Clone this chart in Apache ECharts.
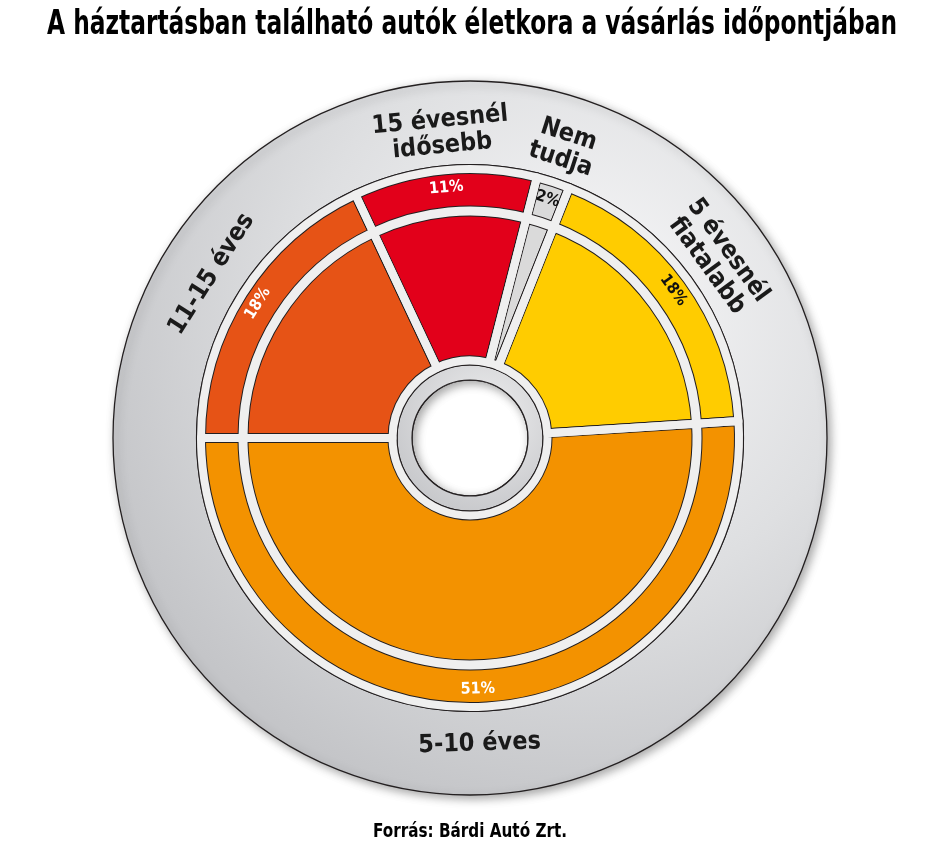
<!DOCTYPE html>
<html><head><meta charset="utf-8">
<script src="https://cdn.jsdelivr.net/npm/echarts@6/dist/echarts.min.js"></script>
<style>html,body{margin:0;padding:0;background:#fff}#c{width:945px;height:852px}</style>
</head><body><div id="c"></div>
<script>
const categories = ['11-15 éves', '15 évesnél\nidősebb', 'Nem\ntudja', '5 évesnél\nfiatalabb', '5-10 éves'];
const shares = [18, 11, 2, 18, 51];
const colors = ['#E65316', '#E2001A', '#DADADA', '#FFCC00', '#F39200'];
const pctColors = ['#ffffff', '#ffffff', '#111111', '#111111', '#ffffff'];
const titleText = 'A háztartásban található autók életkora a vásárlás időpontjában';
const sourceText = 'Forrás: Bárdi Autó Zrt.';

const FONT = "'DejaVu Sans Condensed','Liberation Sans Narrow','Arial Narrow',sans-serif";
const C = [470, 438];
const GAP = '#efefef', LINE = '#231f20';
const chart = echarts.init(document.getElementById('c'), null, {renderer: 'canvas'});

// measure text to condense title / source to the reference widths
const mctx = document.createElement('canvas').getContext('2d');
function widthOf(txt, size) { mctx.font = 'bold ' + size + 'px ' + FONT; return mctx.measureText(txt).width; }
const TITLE_SIZE = 32, SRC_SIZE = 19;
const titleScale = 850 / widthOf(titleText, TITLE_SIZE);
const srcScale = 194 / widthOf(sourceText, SRC_SIZE);

const base = {type: 'pie', center: C, startAngle: 180, clockwise: true, silent: true,
  animation: false, labelLine: {show: false}, emphasis: {disabled: true}, avoidLabelOverlap: false,
  label: {show: false}};
const mk = fn => categories.map((n, i) => fn(n, i));

function solid(r, z) {
  return Object.assign({}, base, {radius: r, z: z,
    data: mk((n, i) => ({name: n, value: shares[i],
      itemStyle: {color: colors[i], borderColor: LINE, borderWidth: 10}}))});
}
function gaps(r, z) {
  return Object.assign({}, base, {radius: r, z: z,
    data: mk((n, i) => ({name: n, value: shares[i],
      itemStyle: {color: 'rgba(0,0,0,0)', borderColor: GAP, borderWidth: 8}}))});
}
function deco(r, z, style) {
  return Object.assign({}, base, {radius: r, z: z, data: [{name: 'deco', value: 1, itemStyle: style}]});
}

const option = {
  backgroundColor: '#ffffff',
  graphic: [
    {type: 'text', x: 472, y: 25, scaleX: titleScale, scaleY: 1.05, z: 100,
     style: {text: titleText, fontFamily: FONT, fontWeight: 'bold', fontSize: TITLE_SIZE,
       fill: '#000', textAlign: 'center', textVerticalAlign: 'middle'}},
    {type: 'text', x: 470, y: 832, scaleX: srcScale, z: 100,
     style: {text: sourceText, fontFamily: FONT, fontWeight: 'bold', fontSize: SRC_SIZE,
       fill: '#000', textAlign: 'center', textVerticalAlign: 'middle'}}
  ],
  series: [
    deco([58, 357], 1, {
      color: new echarts.graphic.RadialGradient(0.66, 0.32, 0.72, [
        {offset: 0, color: '#f8f8f9'}, {offset: 0.55, color: '#dedfe1'}, {offset: 1, color: '#c4c5c8'}]),
      borderColor: LINE, borderWidth: 1.3,
      shadowColor: 'rgba(0,0,0,0.35)', shadowBlur: 10, shadowOffsetX: 3, shadowOffsetY: 3}),
    deco([73, 273.5], 2, {color: GAP, borderColor: LINE, borderWidth: 1.2}),
    deco([58, 73], 3, {
      color: new echarts.graphic.RadialGradient(0.6, 0.35, 0.7, [
        {offset: 0, color: '#eeeeef'}, {offset: 1, color: '#c6c7ca'}]),
      borderColor: LINE, borderWidth: 1.2}),
    solid([77.5, 226.5], 4),
    solid([227.5, 269], 5),
    gaps([77.5, 226.5], 6),
    gaps([227.5, 269], 7),
    Object.assign({}, base, {radius: [227.5, 269], z: 8,
      label: {show: true, position: 'inside', rotate: 'tangential', fontFamily: FONT,
        fontWeight: 'bold', fontSize: 16, formatter: p => p.value + '%'},
      data: mk((n, i) => ({name: n, value: shares[i], itemStyle: {color: 'rgba(0,0,0,0)'},
        label: {color: pctColors[i]}}))}),
    Object.assign({}, base, {radius: [252, 354], z: 9,
      label: {show: true, position: 'inside', rotate: 'tangential', fontFamily: FONT,
        fontWeight: 'bold', fontSize: 25, lineHeight: 26, color: '#1a1a1a', formatter: p => p.name},
      data: mk((n, i) => ({name: n, value: shares[i], itemStyle: {color: 'rgba(0,0,0,0)'}}))})
  ]
};
chart.setOption(option);
</script></body></html>
